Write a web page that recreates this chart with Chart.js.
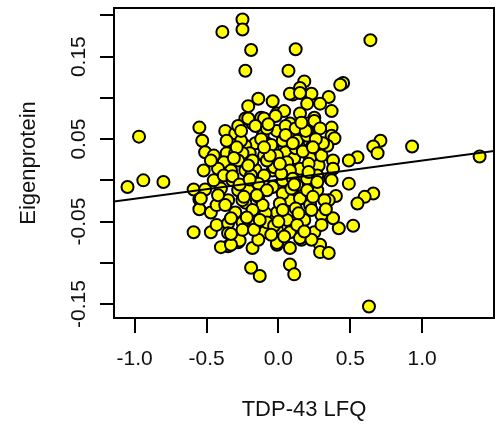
<!DOCTYPE html>
<html>
<head>
<meta charset="utf-8">
<script src="https://cdn.jsdelivr.net/npm/chart.js@4/dist/chart.umd.min.js"></script>
<style>
  html, body { margin: 0; padding: 0; background: #fff; overflow: hidden; }
  #wrap { width: 502px; height: 433px; }
</style>
</head>
<body>
<div id="wrap"><canvas id="scatterCanvas" width="502" height="433"></canvas></div>
<script>
// TDP-43 LFQ vs eigenprotein, one point per sample
let lfq = [
  -1.05, -0.94, -0.80, -0.97, -0.59, 1.40, 0.63, 0.64, -0.25, -0.25,
  -0.39, -0.19, 0.12, -0.23, 0.07, 0.18, 0.15, 0.10, 0.23, -0.14,
  0.35, 0.45, 0.43, 0.29, 0.37, -0.55, -0.53, -0.51, -0.59, -0.51,
  -0.55, -0.55, -0.47, 0.37, 0.37, 0.39, 0.71, 0.66, 0.69, 0.93,
  0.55, 0.49, 0.38, 0.38, 0.36, 0.49, 0.40, 0.66, 0.60, 0.55,
  0.35, 0.52, 0.42, -0.19, -0.13, 0.08, 0.11, 0.29, 0.29, 0.35,
  -0.35, -0.28, -0.18, -0.01, 0.16, -0.37, -0.30, -0.23, -0.18, -0.12,
  -0.16, -0.23, -0.36, -0.30, -0.20, -0.38, -0.42, -0.33, -0.23, -0.16,
  -0.40, -0.28, -0.19, -0.54, -0.47, -0.30, -0.43, -0.35, -0.23, -0.19,
  -0.35, -0.27, -0.40, -0.33, -0.25, -0.14, 0.08, 0.15, -0.01, 0.15,
  0.25, -0.10, 0.08, 0.20, 0.28, -0.01, 0.08, 0.15, -0.08, -0.04,
  0.23, 0.15, 0.05, -0.01, -0.10, 0.11, 0.22, 0.28, 0.06, -0.04,
  0.15, 0.08, -0.10, -0.04, 0.08, 0.15, 0.22, 0.32, 0.37, -0.01,
  -0.09, 0.12, 0.18, 0.30, 0.38, -0.10, -0.01, 0.08, 0.15, 0.25,
  -0.01, 0.08, 0.04, -0.02, -0.21, -0.16, 0.25, 0.05, 0.12, 0.29,
  -0.26, -0.05, 0.12, -0.25, 0.21, -0.03, -0.14, 0.03, 0.20, 0.27,
  -0.21, 0.03, -0.11, -0.35, -0.25, 0.23, -0.08, 0.06, 0.13, 0.27,
  -0.45, -0.38, -0.08, -0.18, 0.13, 0.03, -0.28, -0.36, -0.11, -0.21,
  -0.04, 0.20, -0.45, 0.20, 0.30, -0.08, 0.01, -0.16, -0.33, 0.13,
  0.23, -0.43, -0.52, -0.47, -0.32, -0.25, 0.10, 0.20, 0.30, -0.14,
  -0.28, -0.08, 0.34, 0.03, -0.18, -0.42,
  -0.32, -0.27, -0.21, -0.15, -0.06, 0.02, 0.09, 0.17, 0.24, 0.31,
  -0.37, -0.29, -0.22, -0.12, -0.03, 0.05, 0.14, 0.19, 0.26, 0.33,
  -0.33, -0.26, -0.17, -0.07, 0.00, 0.10, 0.18, 0.24, -0.31, -0.20,
  -0.10, 0.01, 0.11, 0.21, -0.24, -0.13, 0.04, 0.16, 0.27, -0.05
];
let eigen = [
  -0.008, 0.000, -0.002, 0.053, -0.063, 0.029, -0.153, 0.170, 0.195, 0.183,
  0.180, 0.158, 0.159, 0.133, 0.133, 0.120, 0.112, 0.104, 0.105, 0.099,
  0.101, 0.118, 0.116, 0.093, 0.084, 0.064, 0.048, 0.034, -0.011, -0.011,
  -0.023, -0.035, -0.063, 0.064, 0.054, 0.051, 0.048, 0.041, 0.033, 0.041,
  0.028, 0.024, 0.024, 0.014, 0.002, -0.004, -0.019, -0.016, -0.020, -0.028,
  -0.024, -0.055, -0.058, -0.106, -0.116, -0.102, -0.114, -0.078, -0.087, -0.088,
  -0.080, -0.075, -0.082, -0.078, -0.072, 0.060, 0.057, 0.075, 0.069, 0.076,
  0.045, 0.042, 0.033, 0.033, 0.033, 0.022, 0.014, 0.012, 0.012, 0.013,
  -0.010, -0.012, 0.006, -0.022, -0.039, -0.039, -0.054, -0.052, -0.027, -0.042,
  -0.064, -0.073, -0.081, -0.078, -0.051, -0.020, 0.105, 0.106, 0.081, 0.081,
  0.076, 0.075, 0.069, 0.069, 0.063, 0.060, 0.057, 0.052, 0.045, 0.039,
  0.040, 0.039, 0.034, 0.030, 0.030, 0.027, 0.027, 0.018, 0.022, 0.012,
  0.014, 0.012, 0.006, -0.008, -0.024, -0.022, -0.030, -0.024, 0.000, -0.039,
  -0.040, -0.034, -0.048, -0.042, -0.046, -0.063, -0.060, -0.063, -0.070, -0.063,
  -0.076, -0.082, 0.084, 0.078, 0.075, 0.066, 0.072, 0.066, 0.063, 0.063,
  0.048, 0.043, 0.039, 0.033, 0.020, 0.016, -0.004, 0.000, 0.002, -0.012,
  -0.012, -0.016, -0.030, -0.024, -0.060, -0.072, -0.051, -0.048, -0.006, 0.006,
  0.000, 0.006, 0.024, 0.024, 0.048, 0.048, 0.024, 0.048, 0.054, 0.090,
  0.096, 0.093, 0.030, 0.054, 0.030, -0.012, -0.028, -0.054, -0.046, -0.054,
  -0.036, -0.030, 0.012, 0.024, 0.000, -0.024, 0.002, -0.012, -0.054, -0.072,
  0.066, 0.063, 0.042, -0.036, -0.036, -0.018,
  0.005, -0.005, 0.018, -0.018, 0.030, 0.008, -0.010, 0.035, -0.020, 0.045,
  -0.030, 0.040, -0.045, 0.050, -0.055, 0.055, -0.040, 0.060, 0.050, -0.035,
  -0.065, 0.060, -0.060, 0.068, -0.050, 0.045, -0.062, 0.040, 0.027, 0.001,
  0.040, 0.020, -0.005, 0.010, -0.020, -0.048, -0.068, 0.070, -0.002, -0.066
];

// least-squares line as drawn in the figure
let fitX = [-1.2, 1.6];
let fitY = [-0.027, 0.038];

let xTicks = [-1.0, -0.5, 0.0, 0.5, 1.0];
let yTicks = [-0.15, -0.10, -0.05, 0.00, 0.05, 0.10, 0.15, 0.20];
let yLabels = ['-0.15', '', '-0.05', '', '0.05', '', '0.15', ''];

let FONT = "'Liberation Sans', Arial, Helvetica, sans-serif";

let points = lfq.map(function (x, i) {
    return {x: x, y: eigen[i]};
});
let fitLine = fitX.map(function (x, i) {
    return {x: x, y: fitY[i]};
});

// R-style box round the plot region
let boxPlugin = {
    id: 'box',
    afterDraw: function (chart) {
        let a = chart.chartArea;
        let ctx = chart.ctx;
        ctx.save();
        ctx.strokeStyle = '#000';
        ctx.lineWidth = 2;
        ctx.strokeRect(a.left, a.top, a.right - a.left, a.bottom - a.top);
        ctx.restore();
    }
};

let drawChart = function () {
    let ctx = document.getElementById('scatterCanvas').getContext('2d');

    window.scatterChart = new Chart(ctx, {
        type: 'scatter',
        data: {
            datasets: [
                {
                    type: 'line',
                    data: fitLine,
                    borderColor: '#000',
                    borderWidth: 2,
                    pointRadius: 0,
                    fill: false
                },
                {
                    data: points,
                    backgroundColor: '#ffff00',
                    borderColor: '#000',
                    borderWidth: 2,
                    pointRadius: 6,
                    clip: false
                }
            ]
        },
        options: {
            responsive: false,
            animation: false,
            events: [],
            layout: {padding: {top: 7, right: 2, left: 0, bottom: 0}},
            plugins: {legend: {display: false}, tooltip: {enabled: false}},
            scales: {
                x: {
                    type: 'linear',
                    min: -1.144,
                    max: 1.5,
                    afterBuildTicks: function (s) {
                        s.ticks = xTicks.map(function (v) { return {value: v}; });
                    },
                    afterFit: function (s) {
                        s.height = 115;
                        s.paddingLeft = 0;
                        s.paddingRight = 0;
                    },
                    grid: {drawOnChartArea: false, drawTicks: true, tickLength: 15, color: '#000', lineWidth: 2},
                    border: {display: true, color: '#000', width: 2},
                    ticks: {
                        color: '#111',
                        padding: 14,
                        maxRotation: 0,
                        autoSkip: false,
                        font: {family: FONT, size: 21},
                        callback: function (v) { return v.toFixed(1); }
                    },
                    title: {
                        display: true,
                        text: 'TDP-43 LFQ',
                        color: '#111',
                        font: {family: FONT, size: 22},
                        padding: {top: 0, bottom: 10}
                    }
                },
                y: {
                    type: 'linear',
                    min: -0.1669,
                    max: 0.209,
                    afterBuildTicks: function (s) {
                        s.ticks = yTicks.map(function (v) { return {value: v}; });
                    },
                    afterFit: function (s) {
                        s.width = 114;
                        s.paddingTop = 0;
                        s.paddingBottom = 0;
                    },
                    grid: {drawOnChartArea: false, drawTicks: true, tickLength: 14, color: '#000', lineWidth: 2},
                    border: {display: true, color: '#000', width: 2},
                    ticks: {
                        color: '#111',
                        padding: -3,
                        minRotation: 90,
                        maxRotation: 90,
                        crossAlign: 'center',
                        autoSkip: false,
                        font: {family: FONT, size: 21},
                        callback: function (v, i) { return yLabels[i]; }
                    },
                    title: {
                        display: true,
                        text: 'Eigenprotein',
                        color: '#111',
                        font: {family: FONT, size: 22},
                        padding: {top: 16, bottom: 0}
                    }
                }
            }
        },
        plugins: [boxPlugin]
    });
};

drawChart();
</script>
</body>
</html>
